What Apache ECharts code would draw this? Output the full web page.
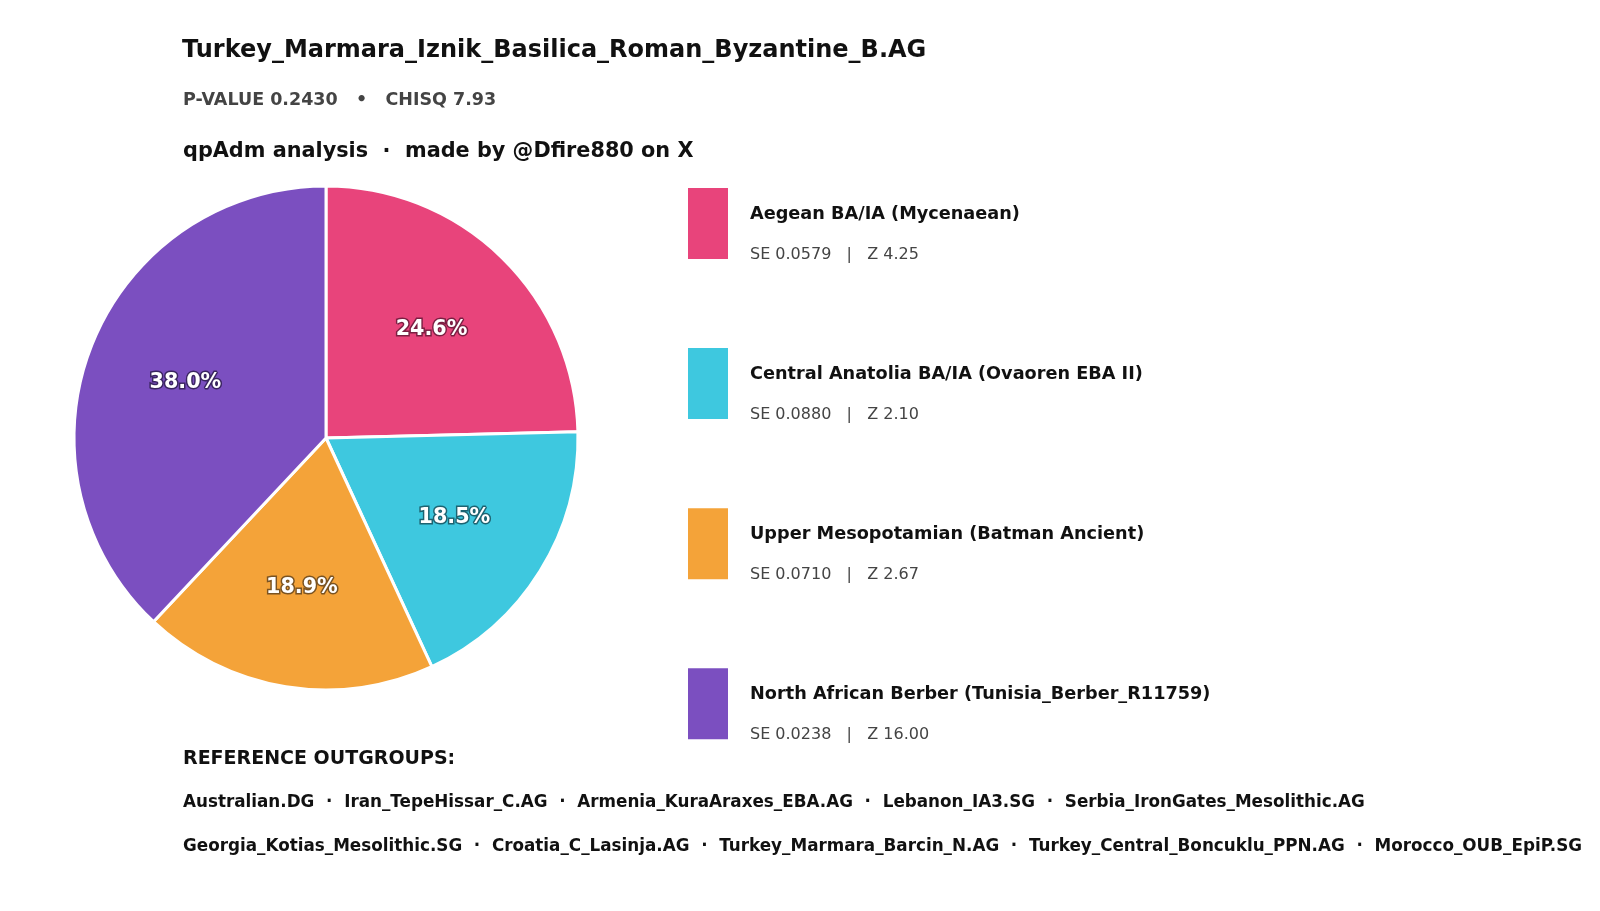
<!DOCTYPE html>
<html>
<head>
<meta charset="utf-8">
<script src="https://cdn.jsdelivr.net/npm/echarts@6/dist/echarts.min.js"></script>
<style>
  html, body { margin: 0; padding: 0; background: #fff; }
  #chart { width: 1600px; height: 911px; }
</style>
</head>
<body>
<div id="chart"></div>
<script>
const sources = [
  "Aegean BA/IA (Mycenaean)",
  "Central Anatolia BA/IA (Ovaoren EBA II)",
  "Upper Mesopotamian (Batman Ancient)",
  "North African Berber (Tunisia_Berber_R11759)",
];
const percents = [24.6, 18.5, 18.9, 38.0];
const stdErrors = ["0.0579", "0.0880", "0.0710", "0.0238"];
const zScores = ["4.25", "2.10", "2.67", "16.00"];
const colors = ["#E8447B", "#3EC8DF", "#F4A339", "#7B4FC0"];
const labelStrokes = ["#7a1f42", "#1d6371", "#7a5322", "#3a2560"];
const outgroupLines = [
  ["Australian.DG", "Iran_TepeHissar_C.AG", "Armenia_KuraAraxes_EBA.AG", "Lebanon_IA3.SG", "Serbia_IronGates_Mesolithic.AG"],
  ["Georgia_Kotias_Mesolithic.SG", "Croatia_C_Lasinja.AG", "Turkey_Marmara_Barcin_N.AG", "Turkey_Central_Boncuklu_PPN.AG", "Morocco_OUB_EpiP.SG"],
];

const font = "DejaVu Sans";
const chart = echarts.init(document.getElementById("chart"), null, { renderer: "canvas" });

const slices = sources.map((name, i) => ({
  name,
  value: percents[i],
  itemStyle: { color: colors[i] },
}));
const labelSlices = sources.map((name, i) => ({
  name,
  value: percents[i],
  label: { textBorderColor: labelStrokes[i] },
}));

const pieCenter = [326, 438];
const pieRadius = 252;

chart.setOption({
  animation: false,
  backgroundColor: "#ffffff",
  title: [
    {
      text: "Turkey_Marmara_Iznik_Basilica_Roman_Byzantine_B.AG",
      left: 177, top: 34,
      textStyle: { fontFamily: font, fontSize: 24, fontWeight: "bold", color: "#111" },
    },
    {
      text: "P-VALUE 0.2430   \u2022   CHISQ 7.93",
      left: 178, top: 86,
      textStyle: { fontFamily: font, fontSize: 17.5, fontWeight: "bold", color: "#444" },
    },
    {
      text: "qpAdm analysis  \u00b7  made by @Dfire880 on X",
      left: 178, top: 136,
      textStyle: { fontFamily: font, fontSize: 20.8, fontWeight: "bold", color: "#111" },
    },
    {
      text: "REFERENCE OUTGROUPS:",
      left: 178, top: 745,
      textStyle: { fontFamily: font, fontSize: 19, fontWeight: "bold", color: "#111" },
    },
    {
      text: outgroupLines.map((line) => line.join("  \u00b7  ")).join("\n"),
      left: 178, top: 776,
      textStyle: { fontFamily: font, fontSize: 16.8, fontWeight: "bold", color: "#111", lineHeight: 44 },
    },
  ],
  legend: {
    orient: "vertical",
    left: 681, top: 181,
    icon: "rect",
    itemWidth: 42, itemHeight: 73,
    itemGap: 83.6,
    selectedMode: false,
    data: sources,
    formatter: (name) => {
      const i = sources.indexOf(name);
      return `{n|${name}}\n{s|SE ${stdErrors[i]}   |   Z ${zScores[i]}}`;
    },
    textStyle: {
      padding: [22, 0, 0, 16],
      rich: {
        n: { fontFamily: font, fontSize: 17.7, fontWeight: "bold", color: "#111", lineHeight: 40 },
        s: { fontFamily: font, fontSize: 16, color: "#444", lineHeight: 40 },
      },
    },
  },
  series: [
    {
      type: "pie",
      center: pieCenter,
      radius: [0, pieRadius],
      startAngle: 90,
      clockwise: true,
      silent: true,
      label: { show: false },
      labelLine: { show: false },
      itemStyle: { borderColor: "#ffffff", borderWidth: 3 },
      data: slices,
    },
    {
      type: "pie",
      center: pieCenter,
      radius: [0, pieRadius * 1.176],
      startAngle: 90,
      clockwise: true,
      silent: true,
      legendHoverLink: false,
      itemStyle: { color: "rgba(0,0,0,0)" },
      emphasis: { disabled: true },
      label: {
        show: true,
        position: "inside",
        formatter: (p) => p.value.toFixed(1) + "%",
        fontFamily: font, fontSize: 20.7, fontWeight: "bold",
        color: "#ffffff", textBorderWidth: 3,
      },
      labelLine: { show: false },
      data: labelSlices,
    },
  ],
});
</script>
</body>
</html>
